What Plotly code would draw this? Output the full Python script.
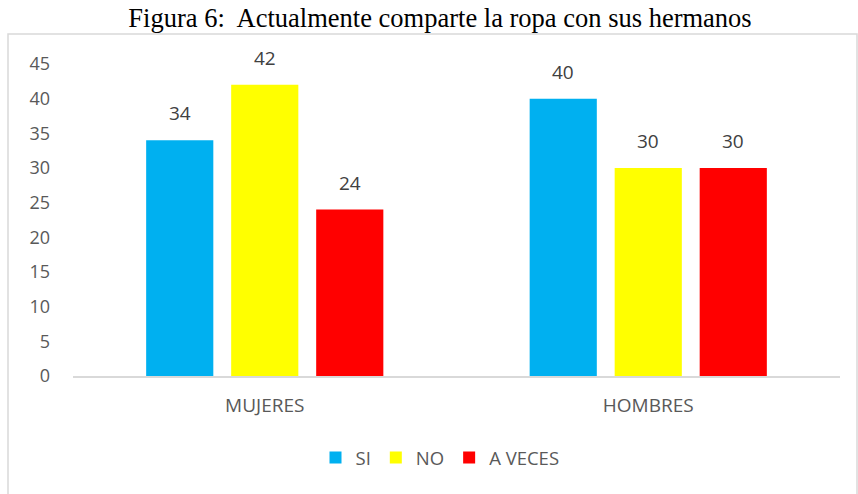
import plotly.graph_objects as go

categories = ["MUJERES", "HOMBRES"]
series_names = ["SI", "NO", "A VECES"]
si_values = [34, 40]
no_values = [42, 30]
aveces_values = [24, 30]
colors = ["#00B0F0", "#FFFF00", "#FF0000"]
y_ticks = [0, 5, 10, 15, 20, 25, 30, 35, 40, 45]

W, H = 858, 494
L, R, T, B = 73, 858 - 840, 64, 494 - 376
FONT = "Open Sans, Liberation Sans, sans-serif"

fig = go.Figure()
all_vals = [si_values, no_values, aveces_values]
for name, vals, col in zip(series_names, all_vals, colors):
    fig.add_trace(go.Bar(
        x=categories, y=vals, name=name, marker=dict(color=col, line=dict(width=0)),
    ))

# data labels above bars
slot = 85  # px width of each bar slot in a group
for i, vals in enumerate(all_vals):
    for c, v in zip(categories, vals):
        fig.add_annotation(x=c, y=v, xref="x", yref="y", text=str(v), showarrow=False,
                           xshift=(i - 1) * slot, yshift=27, yanchor="middle", xanchor="center",
                           font=dict(family=FONT, size=19, color="#404040"))

fig.update_layout(
    width=W, height=H,
    margin=dict(l=L, r=R, t=T, b=B, autoexpand=False),
    paper_bgcolor="white", plot_bgcolor="white",
    barmode="group", bargap=0.335, bargroupgap=0.21,
    title=dict(text="Figura 6:  Actualmente comparte la ropa con sus hermanos",
               x=440 / W, xref="container", xanchor="center", yref="container", y=1 - 18 / H, yanchor="middle",
               automargin=False,
               font=dict(family="Liberation Serif, Times New Roman, serif", size=26.5, color="black")),
    legend=dict(orientation="h", x=(440 - L) / (840 - L), xanchor="center",
                y=-(458 - 376) / (376 - 64), yanchor="middle",
                font=dict(family=FONT, size=18.5, color="#595959"),
                itemwidth=30, traceorder="normal"),
    showlegend=True,
)
fig.update_xaxes(showline=True, linecolor="#D9D9D9", linewidth=1.5, ticks="", showgrid=False,
                 automargin=False, ticklabelstandoff=11,
                 tickfont=dict(family=FONT, size=19, color="#595959"))
fig.update_yaxes(range=[0, 45], tickvals=y_ticks, showgrid=False, zeroline=False, showline=False,
                 ticks="", ticklabelstandoff=22, automargin=False,
                 tickfont=dict(family=FONT, size=18, color="#595959"))

fig.add_shape(type="rect", xref="paper", yref="paper",
              x0=(8 - L) / (W - L - R), x1=(857 - L) / (W - L - R),
              y0=-(500 - 376) / (376 - 64), y1=(376 - 34) / (376 - 64),
              line=dict(color="#D9D9D9", width=1.5), fillcolor="rgba(0,0,0,0)", layer="below")

fig.write_html("out.html", config={"displayModeBar": False},
               post_script="document.body.style.margin='0';document.body.style.overflow='hidden';")
